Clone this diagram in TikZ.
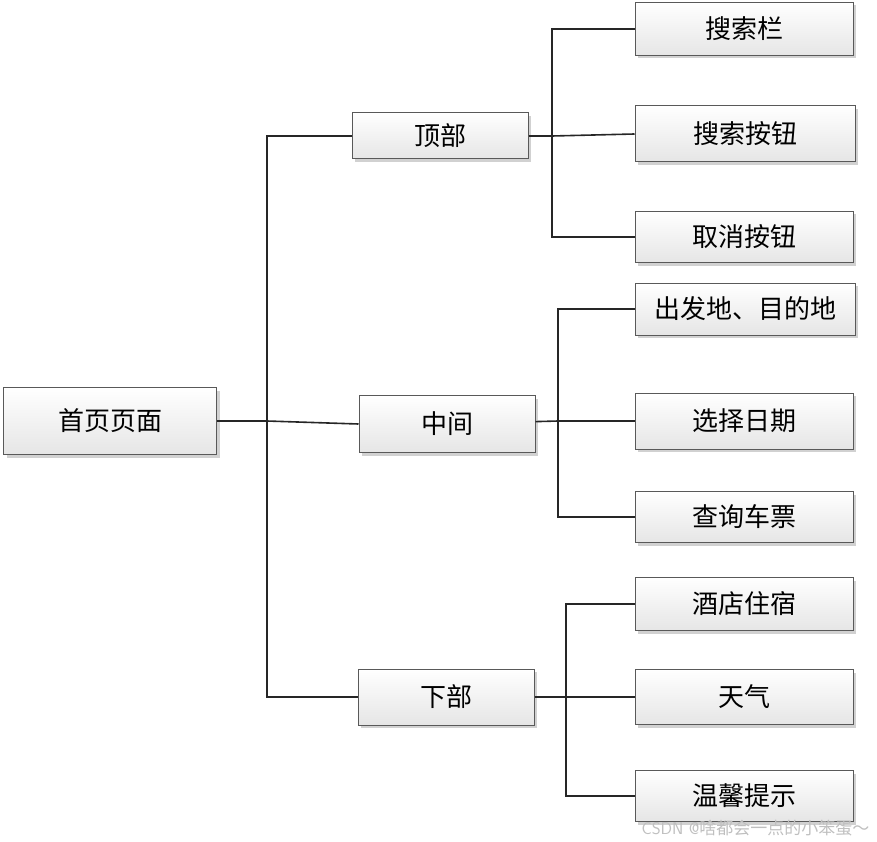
\documentclass[tikz,border=0pt]{standalone}
\usepackage{fontspec}
\newfontfamily\cjk{Noto Sans CJK SC}
\usetikzlibrary{shadows}
\tikzset{
  box/.style={draw=black!65, line width=1pt, top color=white, bottom color=black!10,
    drop shadow={shadow xshift=3pt, shadow yshift=-3pt, fill=black!30, opacity=.6},
    font=\cjk\fontsize{26}{30}\selectfont, inner sep=0pt},
  main/.style={box, minimum width=213pt, minimum height=67pt},
  part/.style={box, minimum width=176pt, minimum height=52pt},
  item/.style={box, minimum width=218pt, minimum height=53pt},
  wire/.style={line width=1.6pt, black!85}
}
\begin{document}
\begin{tikzpicture}[x=1pt,y=-1pt]
\useasboundingbox (0,0) rectangle (877,842);
\node[main] (home) at (110,421) {首页页面};
\node[part, minimum height=46pt] (top) at (440,136) {顶部};
\node[part, minimum height=57pt] (middle) at (447,424) {中间};
\node[part, minimum height=56pt] (bottom) at (446,697) {下部};
\node[item] (searchbar) at (744,29) {搜索栏};
\node[item, minimum width=220pt, minimum height=56pt] (searchbtn) at (745,134) {搜索按钮};
\node[item, minimum height=51pt] (cancel) at (744,237) {取消按钮};
\node[item, minimum width=220pt, minimum height=52pt] (place) at (745,309) {出发地、目的地};
\node[item, minimum height=56pt] (date) at (744,421) {选择日期};
\node[item, minimum height=51pt] (ticket) at (744,517) {查询车票};
\node[item] (hotel) at (744,604) {酒店住宿};
\node[item, minimum height=55pt] (weather) at (744,697) {天气};
\node[item, minimum height=51pt] (tips) at (744,796) {温馨提示};
\node[text=black!25, font=\sffamily\fontsize{17}{19}\selectfont, anchor=east] (mark) at (873,828)
  {CSDN @{\cjk 啥都会一点的小笨蛋～}};
\coordinate (hub) at (267,421);
\coordinate (hubtop) at (552,136);
\coordinate (hubmid) at (558,421);
\coordinate (hubbot) at (566,697);
% first level
\draw[wire] (home) -- (hub) -- (middle.west);
\draw[wire] (hub) |- (top);
\draw[wire] (hub) |- (bottom);
% top part
\draw[wire] (top) -- (hubtop);
\draw[wire] (hubtop) |- (searchbar);
\draw[wire] (hubtop) -- (searchbtn.west);
\draw[wire] (hubtop) |- (cancel);
% middle part
\draw[wire] (middle) -- (hubmid);
\draw[wire] (hubmid) |- (place);
\draw[wire] (hubmid) -- (date);
\draw[wire] (hubmid) |- (ticket);
% bottom part
\draw[wire] (bottom) -- (hubbot);
\draw[wire] (hubbot) |- (hotel);
\draw[wire] (hubbot) -- (weather);
\draw[wire] (hubbot) |- (tips);
\end{tikzpicture}
\end{document}
